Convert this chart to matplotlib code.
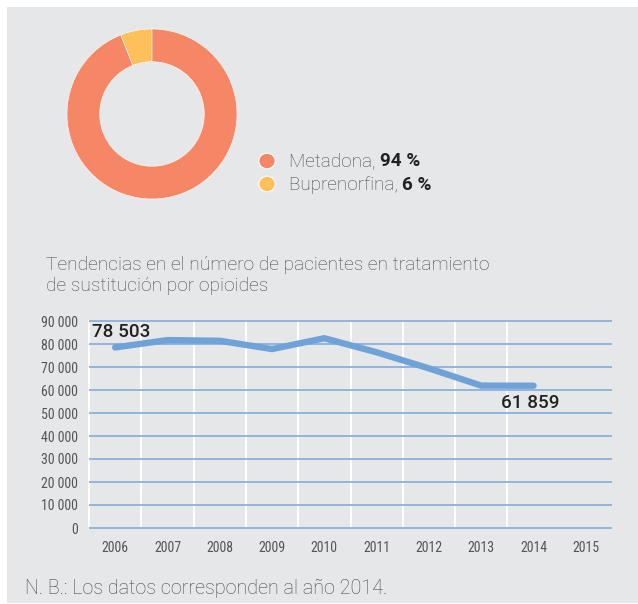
import matplotlib
matplotlib.use("Agg")
import matplotlib.pyplot as plt
from matplotlib.patches import Rectangle, Circle

# ── Data ──────────────────────────────────────────────────────────────────────
pie_labels = ["Buprenorfina", "Metadona"]
pie_values = [6, 94]
pie_colors = ["#fdc05a", "#f58767"]

years = ["2006", "2007", "2008", "2009", "2010", "2011", "2012", "2013", "2014", "2015"]
patients = [78503, 81700, 81400, 77800, 82500, 76400, 69400, 61900, 61859]
yticks = [0, 10000, 20000, 30000, 40000, 50000, 60000, 70000, 80000, 90000]
ytick_labels = ["0", "10 000", "20 000", "30 000", "40 000", "50 000",
                "60 000", "70 000", "80 000", "90 000"]

BG = "#e6e7e8"
W, H = 638, 604
LIGHT = ["Roboto", "DejaVu Sans"]
NARROW = ["Roboto Condensed", "DejaVu Sans"]
TXT = "#474747"

fig = plt.figure(figsize=(W / 100, H / 100), dpi=100)
fig.patch.set_facecolor("white")
fig.add_artist(Rectangle((7 / W, 1 / H), 1, 1 - 8 / H, transform=fig.transFigure,
                         facecolor=BG, edgecolor="none", zorder=0))


def fx(px):
    return px / W


def fy(py):
    return 1 - py / H


# ── Donut ─────────────────────────────────────────────────────────────────────
cx, cy, r = 152, 114, 85
axp = fig.add_axes([fx(cx - r), fy(cy + r), 2 * r / W, 2 * r / H])
axp.pie(pie_values, colors=pie_colors, startangle=90, counterclock=True,
        radius=1, wedgeprops=dict(width=0.385, edgecolor="white", linewidth=0.4))
axp.set_xlim(-1, 1)
axp.set_ylim(-1, 1)
axp.set_aspect("equal")
axp.axis("off")

# legend
leg_items = [("Metadona, ", "94 %", pie_colors[1], 161, 166.5),
             ("Buprenorfina, ", "6 %", pie_colors[0], 184, 189.5)]
for name, pct, col, ymark, ybase in leg_items:
    fig.add_artist(Circle((fx(267), fy(ymark)), 8.2 / W, transform=fig.transFigure,
                          facecolor=col, edgecolor="white", linewidth=0.8))
    t1 = fig.text(fx(289), fy(ybase), name, fontsize=13.6, family=LIGHT,
                  fontweight="light", color=TXT, va="baseline")
    plt.annotate(pct, xy=(1, 0), xycoords=t1, xytext=(0, 0),
                 textcoords="offset points", fontsize=13.6, family=LIGHT,
                 fontweight="bold", color="#222222", va="bottom", ha="left",
                 annotation_clip=False)

# ── Title ─────────────────────────────────────────────────────────────────────
title_lines = ["Tendencias en el número de pacientes en tratamiento",
               "de sustitución por opioides"]
for line, ybase in zip(title_lines, [269.5, 291]):
    fig.text(fx(46), fy(ybase), line, fontsize=13.8, family=LIGHT,
             fontweight="light", color=TXT, va="baseline")

# ── Line chart ────────────────────────────────────────────────────────────────
ax = fig.add_axes([fx(89), fy(528), 523 / W, 207 / H])
ax.set_facecolor("none")
for s in ax.spines.values():
    s.set_visible(False)
ax.set_xlim(-0.5, len(years) - 0.5)
ax.set_ylim(0, 90000)

for i in range(len(years) - 1):
    ax.axvline(i - 0.5, color="white", lw=1.4, zorder=1, clip_on=False)
ax.hlines(yticks, -0.5, len(years) - 0.5, color="#93b3de", lw=1.4, zorder=2,
          clip_on=False)

ax.plot(range(len(patients)), patients, color="#6fa3d8", lw=4.6,
        solid_capstyle="round", solid_joinstyle="miter", zorder=3, clip_on=False)

ax.set_yticks(yticks)
ax.set_yticklabels(ytick_labels)
ax.set_xticks(range(len(years)))
ax.set_xticklabels(years)
ax.tick_params(length=0, colors="#555555", labelsize=10)
ax.tick_params(axis="y", pad=8)
ax.tick_params(axis="x", pad=9)
for lab in ax.get_xticklabels() + ax.get_yticklabels():
    lab.set_family(NARROW)

ax.annotate("78 503", xy=(0, patients[0]), xytext=(-23, 10),
            textcoords="offset pixels", fontsize=13.6, family=LIGHT,
            fontweight="medium", color="#222222", ha="left", va="baseline")
ax.annotate("61 859", xy=(len(patients) - 1, patients[-1]), xytext=(-33, -22),
            textcoords="offset pixels", fontsize=13.6, family=LIGHT,
            fontweight="medium", color="#222222", ha="left", va="baseline")

# ── Footnote ──────────────────────────────────────────────────────────────────
fig.text(fx(25), fy(594), "N. B.: Los datos corresponden al año 2014.",
         fontsize=14.2, family=LIGHT, fontweight="light", color=TXT,
         va="baseline")

fig.savefig("out.png", dpi=100, facecolor=fig.get_facecolor())
